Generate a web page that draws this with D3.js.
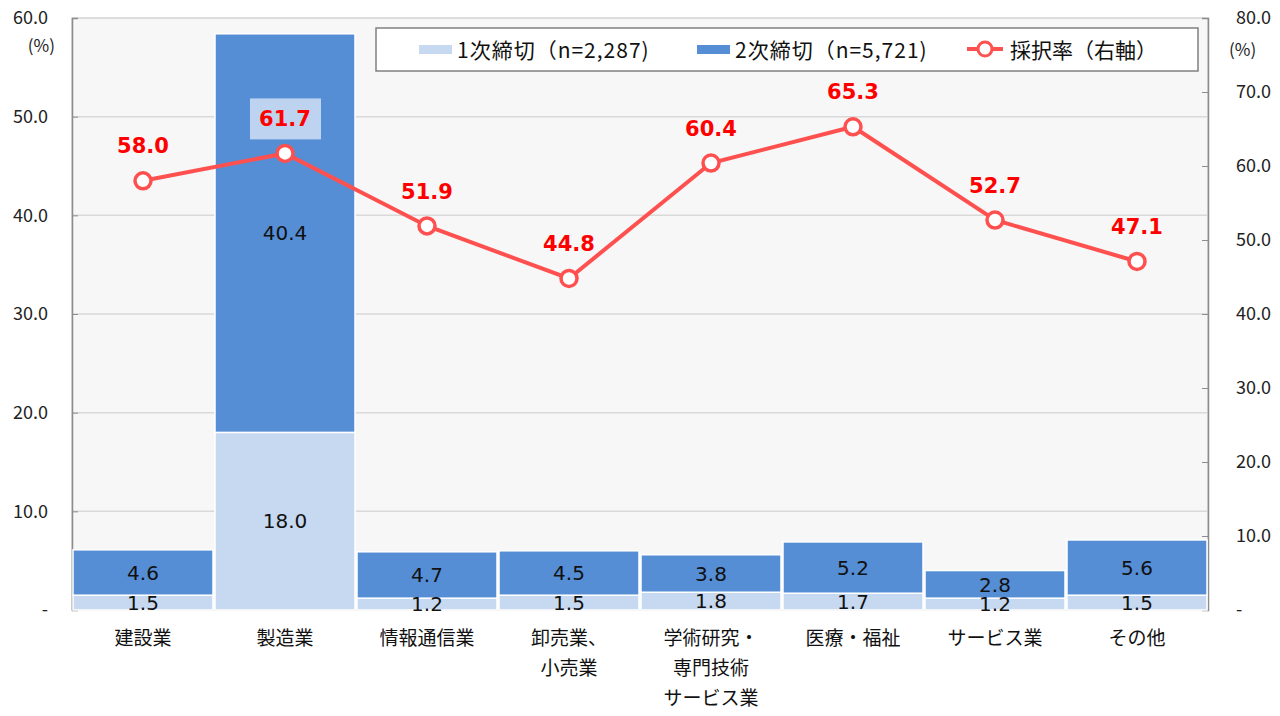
<!DOCTYPE html>
<html>
<head>
<meta charset="utf-8">
<script src="https://cdn.jsdelivr.net/npm/d3@7"></script>
<style>
  body { margin: 0; background: #fff; }
  text { font-family: "Noto Sans CJK JP", "Noto Sans", sans-serif; }
  text.num { font-family: "DejaVu Sans", sans-serif; }
</style>
</head>
<body>
<svg id="chart" width="1280" height="716"></svg>
<script>
// data
var categories = [["建設業"], ["製造業"], ["情報通信業"], ["卸売業、", "小売業"],
  ["学術研究・", "専門技術", "サービス業"], ["医療・福祉"], ["サービス業"], ["その他"]];
var round1 = [1.5, 18.0, 1.2, 1.5, 1.8, 1.7, 1.2, 1.5];
var round2 = [4.6, 40.4, 4.7, 4.5, 3.8, 5.2, 2.8, 5.6];
var rate = [58.0, 61.7, 51.9, 44.8, 60.4, 65.3, 52.7, 47.1];
var leftTicks = [0, 10, 20, 30, 40, 50, 60];
var rightTicks = [0, 10, 20, 30, 40, 50, 60, 70, 80];
var legendNames = ["1次締切（n=2,287)", "2次締切（n=5,721)", "採択率（右軸）"];

var svg = d3.select("#chart");
var pL = 72, pR = 1208, pT = 18, pB = 610;

var x = d3.scaleBand().domain(d3.range(categories.length)).range([pL, pR]).padding(0);
var y = d3.scaleLinear().domain([0, 60]).range([pB, pT]);
var y2 = d3.scaleLinear().domain([0, 80]).range([pB, pT]);

var fmt = function(v) { return v === 0 ? "-" : d3.format(".1f")(v); };

// plot background
svg.append("rect").attr("x", pL).attr("y", pT)
  .attr("width", pR - pL).attr("height", pB - pT)
  .attr("fill", "#f7f7f7").attr("stroke", "#bfbfbf");

// gridlines
svg.append("g").selectAll("line").data(leftTicks.filter(function(d){ return d > 0 && d < 60; }))
  .join("line")
  .attr("x1", pL).attr("x2", pR)
  .attr("y1", function(d){ return y(d); }).attr("y2", function(d){ return y(d); })
  .attr("stroke", "#d9d9d9").attr("stroke-width", 1.5);

// left axis
var la = svg.append("g").attr("transform", "translate(" + pL + ",0)")
  .call(d3.axisLeft(y).tickValues(leftTicks).tickFormat(fmt).tickSize(-6).tickPadding(24));
la.select(".domain").attr("stroke", "#8c8c8c").attr("stroke-width", 1.5);
la.selectAll(".tick line").attr("stroke", "#8c8c8c");
la.selectAll("text").attr("font-size", 18).attr("fill", "#222");

// right axis
var ra = svg.append("g").attr("transform", "translate(" + pR + ",0)")
  .call(d3.axisRight(y2).tickValues(rightTicks).tickFormat(fmt).tickSize(-6).tickPadding(28));
ra.select(".domain").attr("stroke", "#8c8c8c").attr("stroke-width", 1.5);
ra.selectAll(".tick line").attr("stroke", "#8c8c8c");
ra.selectAll("text").attr("font-size", 18).attr("fill", "#222");

svg.append("text").attr("x", 55).attr("y", 52).attr("text-anchor", "end")
  .attr("font-size", 17).attr("fill", "#222").text("(%)");
svg.append("text").attr("x", 1229).attr("y", 56)
  .attr("font-size", 17).attr("fill", "#222").text("(%)");

// stacked bars
var bars = svg.append("g");
categories.forEach(function(c, i) {
  var x0 = x(i) + 1, w = x.bandwidth() - 2;
  bars.append("rect").attr("x", x0).attr("y", y(round1[i]))
    .attr("width", w).attr("height", y(0) - y(round1[i]))
    .attr("fill", "#c6d9f1").attr("stroke", "#fff").attr("stroke-width", 1.5);
  bars.append("rect").attr("x", x0).attr("y", y(round1[i] + round2[i]))
    .attr("width", w).attr("height", y(round1[i]) - y(round1[i] + round2[i]))
    .attr("fill", "#558ed5").attr("stroke", "#fff").attr("stroke-width", 1.5);
  var cx = x(i) + x.bandwidth() / 2;
  bars.append("text").attr("class", "num").attr("x", cx).attr("y", (y(0) + y(round1[i])) / 2)
    .attr("dy", "0.36em").attr("text-anchor", "middle").attr("font-size", 20)
    .attr("fill", "#111").text(d3.format(".1f")(round1[i]));
  bars.append("text").attr("class", "num").attr("x", cx).attr("y", (y(round1[i]) + y(round1[i] + round2[i])) / 2)
    .attr("dy", "0.36em").attr("text-anchor", "middle").attr("font-size", 20)
    .attr("fill", "#111").text(d3.format(".1f")(round2[i]));
});

// category labels
var cat = svg.append("g");
categories.forEach(function(lines, i) {
  var t = cat.append("text").attr("text-anchor", "middle").attr("font-size", 19).attr("fill", "#111");
  lines.forEach(function(s, k) {
    t.append("tspan").attr("x", x(i) + x.bandwidth() / 2).attr("y", 645 + k * 30).text(s);
  });
});

// rate line
var cxs = function(d, i) { return x(i) + x.bandwidth() / 2; };
svg.append("path").datum(rate)
  .attr("d", d3.line().x(cxs).y(function(d){ return y2(d); }))
  .attr("fill", "none").attr("stroke", "#ff5050").attr("stroke-width", 4);
svg.append("g").selectAll("circle").data(rate).join("circle")
  .attr("cx", cxs).attr("cy", function(d){ return y2(d); }).attr("r", 8)
  .attr("fill", "#fff").attr("stroke", "#ff5050").attr("stroke-width", 3.5);

var rl = svg.append("g");
rate.forEach(function(d, i) {
  var cx = x(i) + x.bandwidth() / 2, cy = y2(d) - 35;
  // label sitting on a bar gets a light box
  if (y(round1[i] + round2[i]) < cy + 12) {
    rl.append("rect").attr("x", cx - 35).attr("y", cy - 20).attr("width", 71).attr("height", 41)
      .attr("fill", "#bed3ef");
  }
  rl.append("text").attr("class", "num").attr("x", cx).attr("y", cy).attr("dy", "0.36em")
    .attr("text-anchor", "middle").attr("font-size", 21).attr("font-weight", "bold")
    .attr("fill", "#ff0000").text(d3.format(".1f")(d));
});

// legend
var lg = svg.append("g");
lg.append("rect").attr("x", 376).attr("y", 28).attr("width", 822).attr("height", 43)
  .attr("fill", "#fff").attr("stroke", "#808080").attr("stroke-width", 1.5);
lg.append("rect").attr("x", 419).attr("y", 45).attr("width", 33).attr("height", 9).attr("fill", "#c6d9f1");
lg.append("rect").attr("x", 697).attr("y", 45).attr("width", 33).attr("height", 9).attr("fill", "#558ed5");
lg.append("line").attr("x1", 967).attr("x2", 1003).attr("y1", 49).attr("y2", 49)
  .attr("stroke", "#ff5050").attr("stroke-width", 4);
lg.append("circle").attr("cx", 985).attr("cy", 49).attr("r", 7)
  .attr("fill", "#fff").attr("stroke", "#ff5050").attr("stroke-width", 3);
[457, 735, 1010].forEach(function(lx, k) {
  lg.append("text").attr("x", lx).attr("y", 50).attr("dy", "0.36em").attr("font-size", 21)
    .attr("letter-spacing", k < 2 ? 1 : 0).attr("fill", "#111").text(legendNames[k]);
});
</script>
</body>
</html>
